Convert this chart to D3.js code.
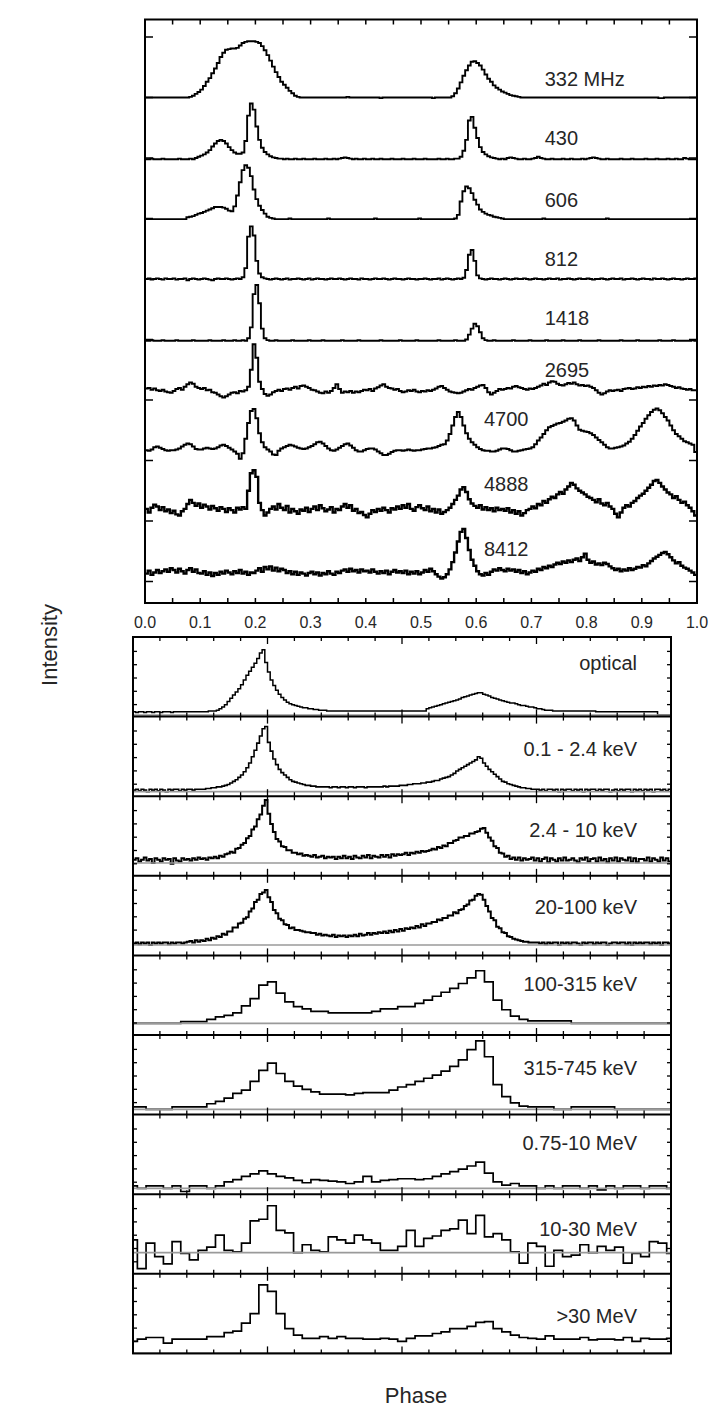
<!DOCTYPE html>
<html>
<head>
<meta charset="utf-8">
<script src="https://cdn.jsdelivr.net/npm/d3@7"></script>
<style>
  body { margin: 0; background: #fff; }
  svg { display: block; }
  text { font-family: "Liberation Sans", Arial, Helvetica, sans-serif; fill: #262626; }
</style>
</head>
<body>
<svg id="chart" width="728" height="1412"></svg>
<script>
// ---------------------------------------------------------------
// Crab pulsar pulse profiles, radio to gamma rays.
// Radio profiles: 200 phase bins (0.005 wide), intensity in % of the
// vertical spacing between stacked traces.
// High-energy profiles: fine ones use 200 bins, coarse ones 63 bins
// of width 1/62 starting at phase -0.008; intensity in % of panel height.
// ---------------------------------------------------------------

const radioLabels = ["332 MHz", "430", "606", "812", "1418", "2695", "4700", "4888", "8412"];
const bandLabels = ["optical", "0.1 - 2.4 keV", "2.4 - 10 keV", "20-100 keV", "100-315 keV",
                    "315-745 keV", "0.75-10 MeV", "10-30 MeV", ">30 MeV"];
const phaseTicks = [0, 0.1, 0.2, 0.3, 0.4, 0.5, 0.6, 0.7, 0.8, 0.9, 1.0];

const radio332 = [
  0,0,0,0,0,0,0,0,0,0, 0,0,0,0,0,0,1,3,6,9, 13,19,26,32,40,48,57,67,74,79, 80,81,81,82,86,90,92,93,93,93,
  92,90,85,78,70,61,51,42,34,26, 21,16,11,7,3,1,0,0,0,0, 0,0,0,0,0,0,0,0,0,0, 0,0,0,1,0,0,0,0,0,0,
  0,0,0,0,0,-1,0,0,0,0, 0,0,0,0,0,0,0,0,0,0, 0,0,0,0,-1,0,0,0,0,0, 0,2,7,15,25,36,45,53,59,60,
  57,53,46,38,31,26,20,16,13,10, 8,6,4,3,2,1,0,0,0,0, 0,0,0,0,0,0,0,0,0,0, 0,0,0,0,0,0,0,0,0,0,
  0,0,0,0,0,0,0,0,0,0, 0,0,0,0,0,0,0,0,0,0, 0,0,0,0,0,0,-1,-1,0,0, 0,0,0,0,0,0,0,0,0,0
];
const radio430 = [
  -2,-2,-1,-2,-2,-2,-1,-2,-2,-2, -2,-2,-1,-2,-2,-2,-1,-2,0,2, 4,6,9,13,19,24,28,30,28,24, 18,13,9,7,7,9,28,70,90,80,
  52,30,17,10,6,3,1,0,-1,-1, -2,-1,-2,-2,-1,-2,-2,-1,-2,-2, -2,-1,-2,-2,-2,-1,-2,-2,-1,-2, -1,0,1,0,-1,-2,-1,-2,-2,-1,
  -2,-2,-1,-2,-2,-1,-2,-2,-2,-1, -2,-2,-2,-1,-2,-2,-2,-1,-2,-2, -2,-1,-2,-2,-2,-2,-1,-2,-2,-1, -2,-2,-1,-1,2,12,30,62,68,50,
  33,18,10,6,3,1,0,-1,-2,-1, -2,0,1,0,-1,-2,-2,-1,-2,-2, -1,0,2,0,-1,-2,-2,-1,-2,-2, -2,-1,-2,-2,-1,-2,-2,-2,-1,-2,
  -1,0,1,0,-1,-2,-2,-1,-2,-2, -2,-2,-1,-2,-2,-2,-1,-2,-2,-2, -2,-1,-2,-2,-2,-1,-2,-2,-2,-1, -2,-2,-1,-2,-2,0,-1,-2,-2,-2
];
const radio606 = [
  -1,-1,-1,-1,-1,-1,-1,-1,-1,-1, -1,-1,-1,-1,-1,2,3,4,6,8, 9,11,13,15,17,19,19,19,18,16, 13,12,20,38,60,80,88,84,70,48,
  32,21,14,8,3,1,0,-1,-1,-1, -1,-1,0,-1,-1,-1,-1,-1,-1,-1, -1,-1,-1,-1,-1,-1,0,-1,-1,-1, -1,-1,-1,-1,-1,-1,-1,-1,-1,-1,
  -1,-1,-1,0,-1,-1,-1,-1,-1,-1, -1,-1,-1,-1,-1,-1,-1,-1,-1,0, -1,-1,-1,-1,-1,-1,-1,-1,-1,-1, -1,-1,0,6,28,45,53,50,42,31,
  23,15,11,8,6,5,3,2,1,0, -1,-1,-1,-1,-1,-1,-1,-1,-1,-1, -1,-1,-1,-1,0,-1,-1,-1,-1,-1, -1,-1,-1,-1,-1,-1,-1,-1,-1,-1,
  -1,-1,-1,-1,-1,-1,-1,0,-1,-1, -1,-1,-1,-1,-1,-1,-1,-1,-1,-1, -1,-1,-1,-1,-1,-1,-1,-1,-1,-1, -1,-1,-1,-1,-1,-1,-1,-1,-1,-1
];
const radio812 = [
  0,1,-1,0,1,0,-1,1,0,0, 1,-1,0,0,1,-2,0,1,0,-1, 0,1,0,-1,-2,0,1,0,0,1, 0,-1,0,1,0,3,18,70,87,72,
  30,9,3,1,0,-1,0,1,0,-1, 0,1,-1,0,0,1,0,-1,0,1, -1,0,1,0,0,-1,0,1,0,0, 1,0,-1,0,1,0,0,-1,1,0,
  0,-1,0,1,0,0,1,0,-1,0, 1,0,0,-1,0,1,0,0,-1,0, 0,1,0,-1,0,0,1,-1,0,1, 0,-1,0,1,0,2,15,40,48,30,
  6,1,0,-1,0,1,0,0,-1,0, 1,0,-1,0,1,0,0,1,0,-1, 0,1,0,0,-1,0,1,0,0,1, -1,0,0,1,0,-1,0,1,0,0,
  1,0,-1,0,0,1,0,-1,0,1, 0,0,1,-1,0,0,1,0,-1,0, 1,0,0,-1,1,0,0,1,0,-1, 0,1,0,0,-1,0,1,0,0,1
];
const radio1418 = [
  -2,-2,-1,-2,-2,-2,-1,-2,-2,-2, -2,-1,-2,-2,-2,-2,-2,-1,-2,-2, -2,-2,-2,-1,-2,-2,-2,-2,-1,-2, -2,-2,-1,-2,-2,-1,-2,2,20,75,
  90,60,18,2,-1,-2,-2,-1,-2,-2, -2,-2,-2,-1,-2,-2,-2,-2,-2,-1, -2,-2,-2,-2,-1,-2,-2,-2,-2,-2, -2,-1,-2,-2,-2,-2,-2,-1,-2,-2,
  -2,-2,-2,-2,-2,-1,-2,-2,-2,-2, -2,-2,-1,-2,-2,-2,-2,-2,-1,-2, -2,-2,-2,-2,-2,-2,-1,-2,-2,-2, -2,-2,-1,-2,-2,-2,0,8,18,26,
  22,12,2,-1,-2,-2,-1,-2,-2,-2, -2,-2,-2,-1,-2,-2,-2,-2,-2,-1, -2,-2,-2,-2,-2,-1,-2,-2,-2,-2, -2,-1,-2,-2,-2,-2,-2,-1,-2,-2,
  -2,-2,-2,-2,-1,-2,-2,-2,-2,-2, -2,-2,-1,-2,-2,-2,-2,-2,-1,-2, -2,-2,-2,-2,-2,-2,-1,-2,-2,-2, -2,-1,-2,-2,-2,-2,-2,-2,-1,-2
];
const radio2695 = [
  19,20,17,19,16,15,17,14,13,12, 15,18,20,17,22,26,29,27,22,20, 18,20,16,17,13,12,9,6,4,6, 9,12,13,11,15,14,16,22,50,92,
  70,30,18,10,7,9,13,15,17,15, 18,19,17,20,22,19,23,24,22,20, 17,16,14,12,11,14,12,15,20,26, 18,12,14,13,15,12,14,13,15,17,
  16,18,15,19,21,24,26,22,20,19, 17,18,15,13,14,16,15,17,14,13, 15,14,16,15,17,19,22,23,20,17, 14,13,12,11,12,14,16,18,17,20,
  22,24,25,20,13,9,12,15,18,17, 18,20,19,22,23,21,20,18,17,19, 18,20,22,24,27,25,29,31,30,27, 25,24,26,28,27,29,26,24,25,23,
  24,22,20,16,12,9,11,14,16,15, 16,17,15,18,19,20,18,19,21,20, 22,21,23,22,24,23,25,24,26,25, 23,22,20,21,19,18,17,18,16,16
];
const radio4700 = [
  17,16,18,22,23,21,19,17,16,17, 17,18,20,23,26,28,27,23,19,18, 18,20,21,20,19,20,22,25,26,24, 21,18,15,11,3,12,36,62,82,85,
  70,45,30,22,18,15,10,9,16,20, 22,24,26,25,23,21,20,19,20,22, 24,27,30,31,28,24,20,17,16,18, 21,24,27,28,25,21,17,15,15,17,
  19,20,20,18,15,12,9,9,11,14, 16,17,17,16,17,18,17,16,17,17, 18,19,20,20,21,22,24,26,27,33, 44,58,72,80,72,58,45,36,30,26,
  22,19,17,16,16,15,15,16,18,20, 20,19,17,15,15,16,17,18,19,20, 22,27,33,38,44,50,55,57,59,61, 62,64,66,69,70,66,58,51,49,48,
  47,45,42,38,34,30,26,22,20,20, 21,22,23,25,28,31,36,42,49,56, 62,69,75,80,84,86,83,78,72,66, 58,50,44,40,36,32,30,28,26,14
];
const radio4888 = [
  20,14,22,27,24,18,23,16,19,13, 17,11,9,16,20,28,35,30,25,29, 22,27,24,19,25,21,17,23,20,15, 21,18,14,22,19,23,20,50,79,84,
  73,30,18,9,14,20,24,19,28,22, 18,25,14,20,16,12,19,17,22,15, 20,24,18,26,21,16,19,23,14,20, 18,24,28,22,26,17,20,13,15,10,
  6,12,18,15,20,17,22,18,14,21, 19,24,20,26,22,28,20,17,23,26, 21,18,24,16,20,14,19,12,15,18, 22,28,35,42,52,56,48,36,29,25,
  22,26,19,23,18,21,16,22,18,20, 17,21,14,18,12,16,9,13,18,20, 24,21,28,26,33,30,36,40,38,44, 48,45,52,57,63,60,54,50,47,44,
  40,38,35,31,36,29,26,30,24,20, 12,6,14,22,26,24,30,33,38,42, 45,50,55,60,66,68,63,57,52,47, 44,38,41,35,30,32,26,22,16,9
];
const radio8412 = [
  13,18,11,15,19,14,17,20,16,22, 19,15,21,17,13,19,22,16,20,14, 13,17,11,15,9,14,11,16,13,18, 15,12,17,14,19,13,16,11,15,14,
  18,22,16,24,20,25,18,23,17,21, 19,14,17,12,16,11,15,13,10,14, 16,12,15,10,14,12,17,13,11,16, 14,18,20,16,21,17,19,15,20,17,
  18,15,20,16,13,17,14,18,12,16, 19,15,17,14,18,12,16,13,17,12, 15,19,16,21,17,12,8,5,7,12, 20,32,48,66,82,87,72,52,36,26,
  17,12,10,14,11,16,20,18,22,19, 17,21,18,20,16,19,14,17,12,15, 18,16,21,19,24,22,26,24,28,31, 29,33,31,35,32,36,38,34,40,46,
  36,31,33,28,30,27,31,29,25,22, 19,21,17,20,18,22,19,21,24,23, 27,25,30,34,38,41,44,47,49,45, 40,35,30,32,26,23,21,18,15,11
];

const optical = [
  4,3,4,4,3,4,4,3,4,4, 3,4,4,4,3,4,4,4,4,4, 4,4,4,4,4,4,4,4,5,5, 5,6,8,10,13,17,21,25,29,33,
  38,44,50,55,60,65,71,78,82,66, 54,44,37,31,26,22,19,16,14,13, 12,11,10,9,9,8,8,7,7,6, 6,6,5,5,5,5,5,5,5,5,
  5,5,5,5,5,5,5,5,5,5, 5,5,5,5,5,5,5,5,5,5, 5,5,5,5,5,5,5,5,5,8, 9,10,11,12,13,14,15,16,17,18,
  19,20,22,23,24,25,26,27,28,28, 26,25,24,22,21,20,19,18,17,16, 15,15,14,13,12,12,11,10,10,9, 8,8,7,6,6,6,5,5,5,5,
  5,5,5,5,5,5,5,5,5,5, 5,5,4,4,4,4,4,4,4,4, 4,4,4,4,4,4,4,4,4,4, 4,4,4,4,4,0,0,0,0,0
];
const softXray = [
  2,3,1,3,2,0,3,2,3,1, 3,2,0,3,2,3,3,1,3,2, 3,3,2,3,3,3,3,4,4,5, 5,6,6,7,8,9,11,13,15,18,
  21,25,30,36,44,52,61,70,79,82, 62,51,41,34,28,24,21,18,15,13, 12,11,10,9,8,8,7,7,6,6, 6,6,6,5,6,6,5,6,6,5,
  6,6,5,6,6,6,5,6,6,6, 6,6,6,7,6,7,7,7,7,8, 8,8,9,9,10,10,10,11,11,12, 12,13,14,14,16,17,18,19,21,23,
  26,28,30,32,34,36,38,40,44,42, 36,32,28,25,22,19,16,13,12,10, 9,8,7,6,5,5,4,4,3,3, 3,2,3,1,3,3,2,3,0,3,
  2,3,3,1,3,2,3,0,3,2, 3,3,1,3,2,3,3,0,2,3, 1,3,2,3,3,0,3,2,3,1, 3,2,3,0,3,3,2,3,1,3
];
const mediumXray = [
  4,6,2,4,7,3,5,0,6,4, 2,6,4,5,-1,6,3,2,6,4, 5,3,6,4,7,5,6,4,7,6, 8,6,9,8,11,12,14,13,18,19,
  23,25,31,34,42,46,55,61,72,79, 62,49,39,30,27,21,20,16,16,13, 13,11,12,9,10,9,8,10,7,8, 9,6,8,7,8,5,8,6,9,6,
  8,5,9,7,6,9,7,10,6,9, 8,7,10,8,10,7,11,9,11,10, 11,13,10,13,12,14,13,15,14,15, 16,18,17,20,19,22,21,25,25,28,
  29,32,32,34,34,37,37,39,40,43, 44,38,32,28,21,19,13,12,8,9, 5,7,4,7,3,6,4,5,7,3, 6,2,5,7,1,6,4,2,6,3,
  7,3,4,6,3,1,6,4,7,2, 5,6,2,7,3,5,1,6,3,7, 2,6,4,3,7,2,6,1,5,5, 3,7,2,6,4,2,7,3,6,2
];
const hardXray = [
  2,3,1,3,2,3,0,3,2,3, 2,3,3,1,3,2,3,3,2,3, 4,5,3,6,4,6,5,8,6,9, 8,11,10,14,13,17,17,22,22,27,
  28,33,35,42,46,54,57,64,66,69, 60,54,44,40,33,31,26,25,21,22, 19,19,18,17,16,16,15,15,13,14, 12,13,12,11,13,10,12,11,12,10,
  12,11,13,11,14,12,13,15,13,15, 14,16,15,17,15,18,16,19,17,20, 18,21,20,22,21,24,22,26,24,27, 27,29,29,32,31,34,34,37,37,41,
  40,44,45,49,51,56,57,62,64,63, 57,49,42,34,31,23,21,16,15,11, 10,8,7,6,5,4,4,3,3,3, 3,2,3,1,3,2,3,3,0,3,
  2,3,1,3,3,2,0,3,2,3, 3,1,3,2,3,3,0,2,3,3, 2,3,3,1,3,0,3,2,3,2, 3,3,1,3,2,3,0,3,3,2
];

const band100_315 = [
  0,0,0,0,0,0, 2,2,2, 5,8,10,13, 22,31,48,52, 38,27,21,18,15,15, 13,13,13,13,13, 15,18,18,21,21,
  25,29,34,39,44,50,57, 66,52,29,17,9,5, 3,3,3,3,3, 0,0,0,0,0,0,0,0,0,0,0,0
];
const band315_745 = [
  3,3, 0,0,0, 3,3,3,3, 7,10,14,20,24,35,49,58, 45,35,29,25,22,19, 19,19,18,20,21, 21,21,24,
  28,31,35,39,43,48,54,62,75,86, 66,31,16,8,4, 3,3,3, 0,0, 3,3,3,3,3, 0,0,0,0,0,0,0
];
const band075_10 = [
  3,0,3,3,0,3,-4,3,3,0,3, 8,11,15,18,22,18,15,13,10, 7,11,10,9,8,6,8,15, 8, 10,11,12,12,11,12,
  15,18,21,24,28,33, 19,8,4,6,3, 3,0,3,0,3,3,0,3,-2,3,0,3,3,0,3,3,0
];
const band10_30 = [
  16,-20,12,-5,-14,14,-1,-9,3,7, 22,3,1,12,40,42,59,28,25,0, 10,3,1,20,16,12,22,16,12,3,
  3,8,28,8,18,21,28,30,41,24, 47,20,24,16,1,-13,12,8,-17,3, -5,-3,10,0,8,3,7,-13,-1,-5, 14,12,-1
];
const band30 = [
  15,18,20,20,13,18,18,18,18,21, 21,26,28,38,50,86,78,50,31,23, 19,19,21,19,21,19,19,18,18,19,
  18,15,19,22,22,25,27,31,31,34, 39,40,31,27,23,20,19,18,22,18, 18,18,20,17,18,18,17,20,15,19, 18,18,19
];

// ---------------------------------------------------------------
// layout
// ---------------------------------------------------------------
const svg = d3.select("#chart");
const FINE = { start: 0, width: 0.005 };
const COARSE = { start: -0.008, width: 1 / 62 };

// ---- upper (radio) panel ----
const up = { x0: 145, x1: 697, y0: 19.5, y1: 603 };
const xTop = d3.scaleLinear().domain([0, 1]).range([up.x0, up.x1]);
// one unit = spacing between consecutive traces; trace k sits at level k+1
const yTop = d3.scaleLinear().domain([0, 1]).range([37, 97.5]);
const radioSeries = [radio332, radio430, radio606, radio812, radio1418, radio2695, radio4700, radio4888, radio8412];
const radioStroke = [1.9, 1.9, 1.9, 1.9, 1.9, 2.0, 2.0, 2.4, 2.4];
const radioLabelPhase = [0.724, 0.724, 0.724, 0.724, 0.724, 0.724, 0.614, 0.614, 0.614];
const radioLabelDy = [-12, -13, -11.5, -13.5, -14.5, -23, -35, -30.5, -25.5];

function stepPoints(values, bins) {
  const pts = values.map((v, i) => [bins.start + i * bins.width, v]);
  pts.push([bins.start + values.length * bins.width, values[values.length - 1]]);
  return pts;
}

const gUp = svg.append("g");
gUp.append("clipPath").attr("id", "clipUp").append("rect")
  .attr("x", up.x0).attr("y", up.y0).attr("width", up.x1 - up.x0).attr("height", up.y1 - up.y0);

radioSeries.forEach((vals, k) => {
  const line = d3.line()
    .curve(d3.curveStepAfter)
    .x(d => xTop(d[0]))
    .y(d => yTop(k + 1 - d[1] / 100));
  gUp.append("path")
    .attr("clip-path", "url(#clipUp)")
    .attr("d", line(stepPoints(vals, FINE)))
    .attr("fill", "none").attr("stroke", "#000").attr("stroke-width", radioStroke[k]);
  gUp.append("text")
    .attr("x", xTop(radioLabelPhase[k]))
    .attr("y", yTop(k + 1) + radioLabelDy[k])
    .attr("font-size", 20)
    .text(radioLabels[k]);
});

// ticks of the upper panel
const minorPhase = d3.range(1, 20).map(i => i * 0.05);
minorPhase.forEach(p => {
  gUp.append("line").attr("x1", xTop(p)).attr("x2", xTop(p)).attr("y1", up.y0).attr("y2", up.y0 + 5)
    .attr("stroke", "#000").attr("stroke-width", 1.5);
  gUp.append("line").attr("x1", xTop(p)).attr("x2", xTop(p)).attr("y1", up.y1).attr("y2", up.y1 - 5)
    .attr("stroke", "#000").attr("stroke-width", 1.5);
});
d3.range(0, 10).forEach(l => {
  gUp.append("line").attr("x1", up.x0).attr("x2", up.x0 + 8).attr("y1", yTop(l)).attr("y2", yTop(l))
    .attr("stroke", "#000").attr("stroke-width", 1.5);
  gUp.append("line").attr("x1", up.x1).attr("x2", up.x1 - 8).attr("y1", yTop(l)).attr("y2", yTop(l))
    .attr("stroke", "#000").attr("stroke-width", 1.5);
});
gUp.append("rect").attr("x", up.x0).attr("y", up.y0).attr("width", up.x1 - up.x0).attr("height", up.y1 - up.y0)
  .attr("fill", "none").attr("stroke", "#000").attr("stroke-width", 2);

// phase labels between the panels
const fmt = d3.format(".1f");
gUp.selectAll("text.tick").data(phaseTicks).join("text")
  .attr("class", "tick")
  .attr("x", d => xTop(d)).attr("y", 628)
  .attr("text-anchor", "middle").attr("font-size", 16)
  .text(d => fmt(d));

// ---- lower (optical to gamma-ray) panel ----
const lo = { x0: 133, x1: 671, y0: 637, y1: 1353.4 };
const subH = (lo.y1 - lo.y0) / 9;
const unitPx = subH / 100;
const xBot = d3.scaleLinear().domain([0, 1]).range([lo.x0, lo.x1]);
const bandSeries = [optical, softXray, mediumXray, hardXray, band100_315, band315_745, band075_10, band10_30, band30];
const bandBins = [FINE, FINE, FINE, FINE, COARSE, COARSE, COARSE, COARSE, COARSE];
const bandStroke = [1.5, 1.6, 2.0, 2.0, 1.7, 1.7, 1.7, 1.7, 1.7];
const zeroOffset = [1.6, 4.5, 12.8, 10.4, 11.7, 5.3, 5.9, 21.1, 0]; // zero level above panel bottom, px
const bandLabelDy = [33, 39.4, 40.8, 38.2, 35.6, 39.5, 35, 41.8, 48.7];

const gLo = svg.append("g");
bandSeries.forEach((vals, i) => {
  const ty = lo.y0 + i * subH, by = ty + subH;
  const z = zeroOffset[i] / unitPx;
  const y = d3.scaleLinear().domain([-z, 100 - z]).range([by, ty]);
  const clipId = "clipBand" + i;
  gLo.append("clipPath").attr("id", clipId).append("rect")
    .attr("x", lo.x0).attr("y", ty).attr("width", lo.x1 - lo.x0).attr("height", subH);
  const line = d3.line().curve(d3.curveStepAfter).x(d => xBot(d[0])).y(d => y(d[1]));
  gLo.append("path")
    .attr("clip-path", `url(#${clipId})`)
    .attr("d", line(stepPoints(vals, bandBins[i])))
    .attr("fill", "none").attr("stroke", "#000").attr("stroke-width", bandStroke[i]);
  // zero level
  gLo.append("line").attr("x1", lo.x0).attr("x2", lo.x1).attr("y1", y(0)).attr("y2", y(0))
    .attr("stroke", "#9a9a9a").attr("stroke-width", 1.7);
  // phase ticks on top and bottom edges
  minorPhase.forEach(p => {
    const major = Math.abs((p * 4) - Math.round(p * 4)) < 1e-6;
    const len = major ? 7 : 4;
    gLo.append("line").attr("x1", xBot(p)).attr("x2", xBot(p)).attr("y1", ty).attr("y2", ty + len)
      .attr("stroke", "#000").attr("stroke-width", 1.3);
    gLo.append("line").attr("x1", xBot(p)).attr("x2", xBot(p)).attr("y1", by).attr("y2", by - len)
      .attr("stroke", "#000").attr("stroke-width", 1.3);
  });
  // intensity ticks on the sides
  d3.range(0, 5).forEach(j => {
    const yy = by - 12 - j * 13.3;
    gLo.append("line").attr("x1", lo.x0).attr("x2", lo.x0 + 4).attr("y1", yy).attr("y2", yy)
      .attr("stroke", "#000").attr("stroke-width", 1.3);
    gLo.append("line").attr("x1", lo.x1).attr("x2", lo.x1 - 4).attr("y1", yy).attr("y2", yy)
      .attr("stroke", "#000").attr("stroke-width", 1.3);
  });
  gLo.append("text")
    .attr("x", 637).attr("y", ty + bandLabelDy[i])
    .attr("text-anchor", "end").attr("font-size", 20)
    .text(bandLabels[i]);
  if (i > 0) {
    gLo.append("line").attr("x1", lo.x0).attr("x2", lo.x1).attr("y1", ty).attr("y2", ty)
      .attr("stroke", "#000").attr("stroke-width", 2);
  }
});
gLo.append("rect").attr("x", lo.x0).attr("y", lo.y0).attr("width", lo.x1 - lo.x0).attr("height", lo.y1 - lo.y0)
  .attr("fill", "none").attr("stroke", "#000").attr("stroke-width", 2);

// axis titles
svg.append("text")
  .attr("transform", "translate(57,645) rotate(-90)")
  .attr("text-anchor", "middle").attr("font-size", 22)
  .text("Intensity");
svg.append("text")
  .attr("x", 416).attr("y", 1403)
  .attr("text-anchor", "middle").attr("font-size", 22)
  .text("Phase");
</script>
</body>
</html>
